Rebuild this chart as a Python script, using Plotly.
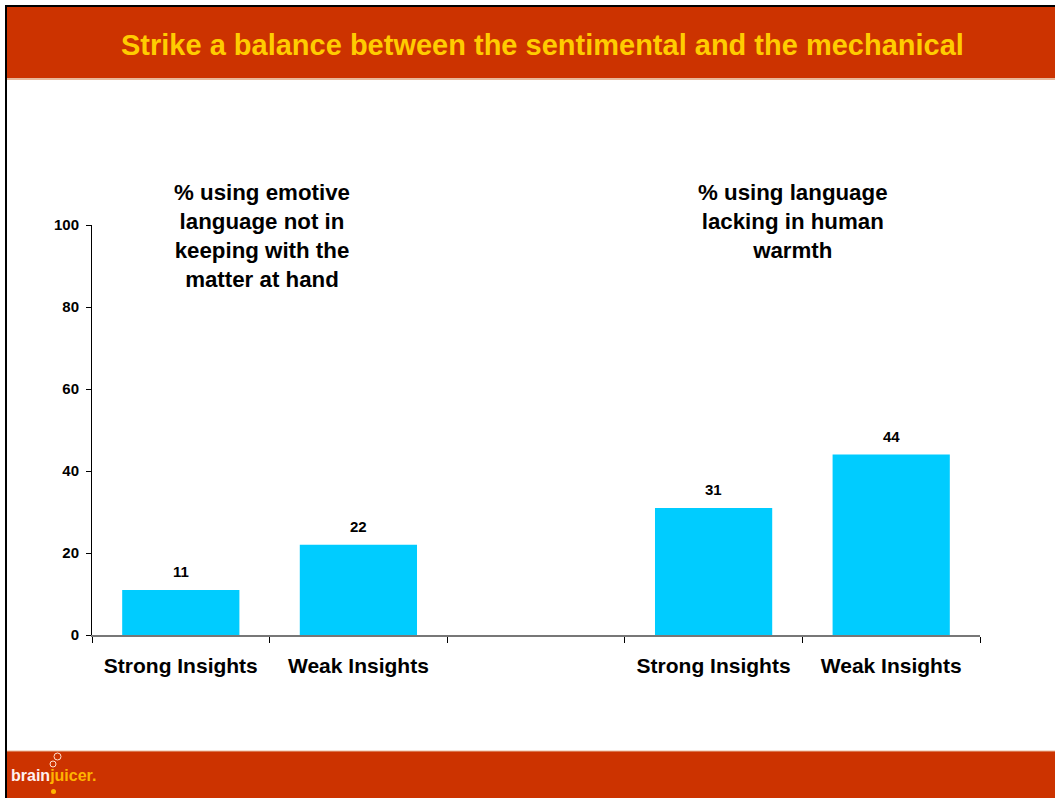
import plotly.graph_objects as go

# ---- data ----
slot_keys = ["S1", "W1", "GAP", "S2", "W2"]
tick_labels = ["Strong Insights", "Weak Insights", "", "Strong Insights", "Weak Insights"]
values = [11, 22, None, 31, 44]
panel_titles = [
    "% using emotive<br>language not in<br>keeping with the<br>matter at hand",
    "% using language<br>lacking in human<br>warmth",
]
title_text = "Strike a balance between the sentimental and the mechanical"
y_ticks = [0, 20, 40, 60, 80, 100]

# ---- geometry helpers (pixel -> paper) ----
W, H = 1055, 798
ML, MR, MT, MB = 92, 75, 225, 163
PW, PH = W - ML - MR, H - MT - MB


def px(x):
    return (x - ML) / PW


def py(y):
    return (H - MB - y) / PH


RED = "#CC3300"
YELLOW = "#FFCC00"
BAR = "#00CCFF"
FONT = "Liberation Sans, Arial, sans-serif"

fig = go.Figure()
fig.add_trace(go.Bar(
    x=slot_keys, y=values, marker=dict(color=BAR, line=dict(width=0)),
    hoverinfo="skip", showlegend=False,
))

annotations = []
for k, v in zip(slot_keys, values):
    if v is None:
        continue
    annotations.append(dict(
        x=k, y=v, xref="x", yref="y", text=f"<b>{v}</b>", showarrow=False,
        yanchor="bottom", yshift=8, font=dict(family=FONT, size=15, color="#000000"),
    ))

# panel titles
annotations.append(dict(
    x=px(262), y=py(178), xref="paper", yref="paper", text="<b>" + panel_titles[0] + "</b>",
    showarrow=False, xanchor="center", yanchor="top", align="center",
    font=dict(family=FONT, size=22.3, color="#000000"),
))
annotations.append(dict(
    x=px(793), y=py(178), xref="paper", yref="paper", text="<b>" + panel_titles[1] + "</b>",
    showarrow=False, xanchor="center", yanchor="top", align="center",
    font=dict(family=FONT, size=22.3, color="#000000"),
))

# main title
annotations.append(dict(
    x=px(542), y=py(45), xref="paper", yref="paper", text="<b>" + title_text + "</b>",
    showarrow=False, xanchor="center", yanchor="middle",
    font=dict(family="Liberation Sans, Arial", size=29, color=YELLOW),
))

# logo
annotations.append(dict(
    x=px(9), y=py(775), xref="paper", yref="paper",
    text="<b>brain</b><b><span style='color:#FFB400'>juicer.</span></b>",
    showarrow=False, xanchor="left", yanchor="middle",
    font=dict(family=FONT, size=16, color="#FFF0F0"),
))

shapes = [
    # title bar
    dict(type="rect", xref="paper", yref="paper", x0=px(6), x1=px(W), y0=py(78), y1=py(6),
         fillcolor=RED, line=dict(width=0), layer="below"),
    dict(type="line", xref="paper", yref="paper", x0=px(6), x1=px(W), y0=py(79), y1=py(79),
         line=dict(color="#E8B89A", width=2), layer="below"),
    # footer bar
    dict(type="rect", xref="paper", yref="paper", x0=px(6), x1=px(W), y0=py(H), y1=py(751),
         fillcolor=RED, line=dict(width=0), layer="below"),
    dict(type="line", xref="paper", yref="paper", x0=px(6), x1=px(W), y0=py(751), y1=py(751),
         line=dict(color="#E8B89A", width=1), layer="below"),
    # black borders
    dict(type="line", xref="paper", yref="paper", x0=px(6), x1=px(6), y0=py(5), y1=py(H),
         line=dict(color="#000000", width=2)),
    dict(type="line", xref="paper", yref="paper", x0=px(6), x1=px(W), y0=py(6), y1=py(6),
         line=dict(color="#000000", width=2)),
    # logo bubbles
    dict(type="circle", xref="paper", yref="paper", x0=px(50), x1=px(56), y0=py(767), y1=py(761),
         line=dict(color="#FFE0D0", width=1)),
    dict(type="circle", xref="paper", yref="paper", x0=px(54), x1=px(61), y0=py(760), y1=py(753),
         line=dict(color="#FFE0D0", width=1)),
    dict(type="circle", xref="paper", yref="paper", x0=px(51), x1=px(56), y0=py(794), y1=py(789),
         fillcolor="#FFB400", line=dict(width=0)),
]

fig.update_layout(
    width=W, height=H,
    margin=dict(l=ML, r=MR, t=MT, b=MB, pad=0),
    paper_bgcolor="#FFFFFF", plot_bgcolor="rgba(0,0,0,0)",
    bargap=0.34,
    annotations=annotations, shapes=shapes,
    font=dict(family=FONT, color="#000000"),
    xaxis=dict(
        type="category", categoryorder="array", categoryarray=slot_keys,
        tickmode="array", tickvals=slot_keys, ticktext=[f"<b>{t}</b>" if t else "" for t in tick_labels],
        tickson="boundaries", ticks="outside", ticklen=6, tickcolor="#000000", tickwidth=1,
        showline=True, linecolor="#777777", linewidth=2, showgrid=False, zeroline=False,
        range=[-0.5, 4.5], tickfont=dict(family=FONT, size=21, color="#000000"),
        ticklabelstandoff=11, fixedrange=True,
    ),
    yaxis=dict(
        range=[0, 100], tickmode="array", tickvals=y_ticks,
        ticktext=[f"<b>{t}</b>" for t in y_ticks],
        ticks="outside", ticklen=5, tickcolor="#000000", tickwidth=1,
        showline=True, linecolor="#000000", linewidth=1, showgrid=False, zeroline=False,
        tickfont=dict(family=FONT, size=15, color="#000000"), ticklabelstandoff=4,
        fixedrange=True,
    ),
)

fig.write_html("out.html")
